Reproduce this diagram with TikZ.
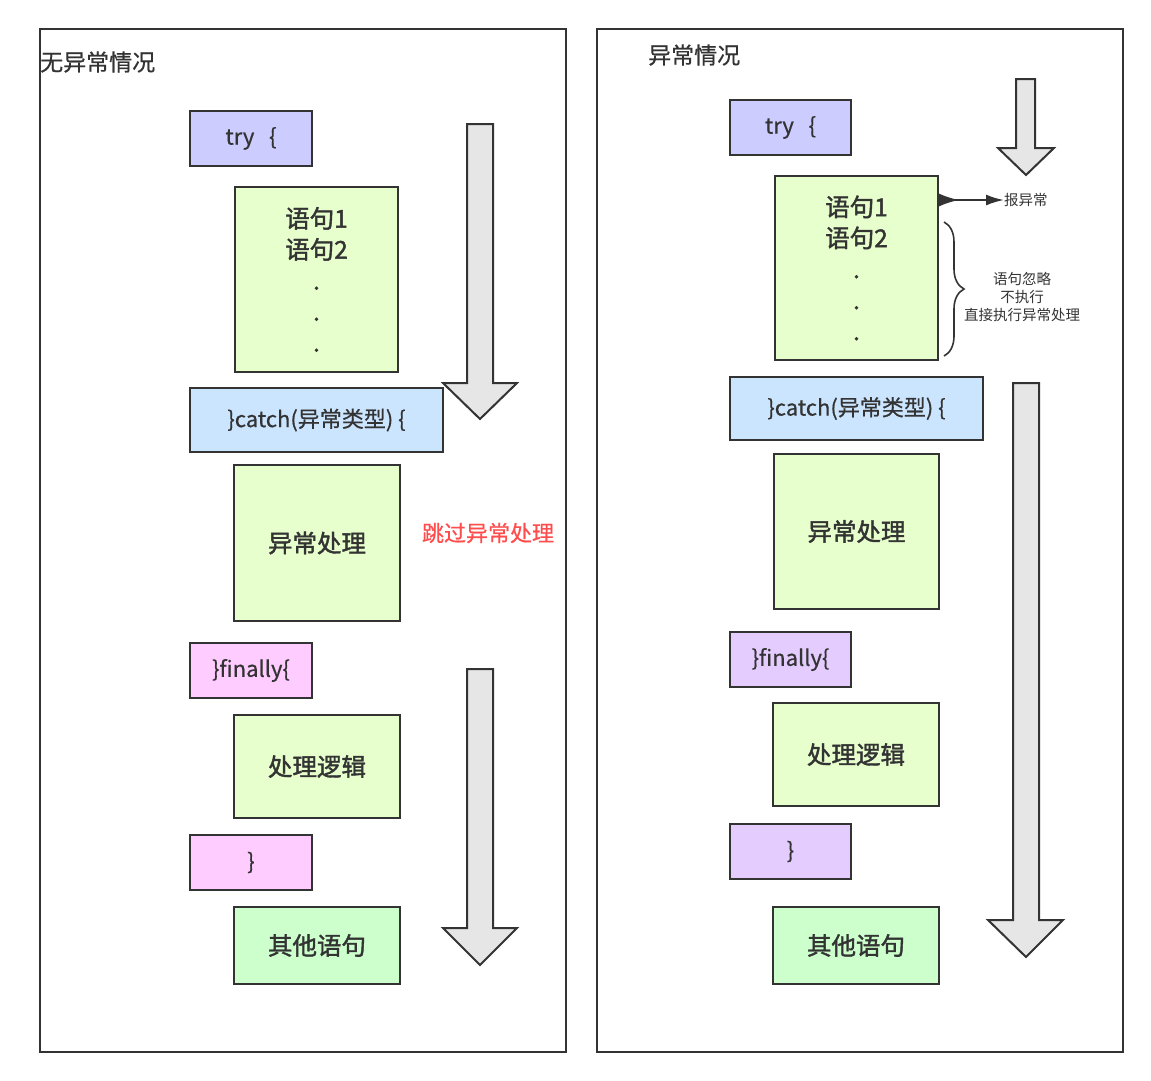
\documentclass[tikz,border=0pt]{standalone}
\usepackage{fontspec}
\setmainfont{Noto Sans CJK SC}
\newfontfamily\medfont[FakeBold=0.6]{Noto Sans CJK SC}
\newfontfamily\heavyfont[FakeBold=1.6]{Noto Sans CJK SC}
\usetikzlibrary{arrows.meta,decorations.pathreplacing}
\definecolor{ln}{RGB}{51,51,51}
\definecolor{tryc}{RGB}{204,204,255}
\definecolor{code}{RGB}{230,255,204}
\definecolor{catc}{RGB}{204,229,255}
\definecolor{finl}{RGB}{255,204,255}
\definecolor{finr}{RGB}{229,204,255}
\definecolor{rest}{RGB}{204,255,204}
\definecolor{skip}{RGB}{255,77,77}
\definecolor{flow}{RGB}{230,230,230}

\tikzset{
  box/.style 2 args={draw=ln, line width=2pt, text=ln, inner sep=0pt,
    minimum width=#1, minimum height=#2, align=center},
  big/.style={font=\fontsize{24.5}{31}\heavyfont},
  mid/.style={font=\fontsize{22}{26}\medfont},
  small/.style={font=\fontsize{14.5}{18}\selectfont, text=ln, align=center},
  panel/.style={draw=ln, line width=2pt},
  flowarr/.style={draw=ln, line width=2pt, fill=flow, line join=miter}
}

\begin{document}
\begin{tikzpicture}[x=1pt, y=-1pt]
  \useasboundingbox (0,0) rectangle (1151,1080);
  % panels
  \draw[panel] (40,29) rectangle (566,1052);
  \draw[panel] (597,29) rectangle (1123,1052);
  \node[mid, font=\fontsize{23}{26}\medfont, anchor=west, text=ln, inner sep=0pt] (ltitle) at (40,62) {无异常情况};
  \node[mid, font=\fontsize{23}{26}\medfont, anchor=west, text=ln, inner sep=0pt] (rtitle) at (648,55) {异常情况};

  % left side
  \node[box={122pt}{55pt}, fill=tryc, mid] (ltry) at (251,138.5) {try\ \ \ \{};
  \node[box={163pt}{185pt}, fill=code, big] (lcode) at (316.5,279.5) {语句1\\语句2\\.\\.\\.};
  \node[box={253pt}{64pt}, fill=catc, mid] (lcatch) at (316.5,420) {\}catch(异常类型) \{};
  \node[box={166pt}{156pt}, fill=code, big] (lhandle) at (317,543) {异常处理};
  \node[box={122pt}{55pt}, fill=finl, mid] (lfin) at (251,670.5) {\}finally\{};
  \node[box={166pt}{103pt}, fill=code, big] (llogic) at (317,766.5) {处理逻辑};
  \node[box={122pt}{55pt}, fill=finl, mid] (lend) at (251,862.5) {\}};
  \node[box={166pt}{77pt}, fill=rest, big] (lrest) at (317,945.5) {其他语句};
  \node[mid, text=skip] (lskip) at (488,533) {跳过异常处理};

  \draw[flowarr] (467,124) -- (493,124) -- (493,383) -- (517,383) -- (480,419)
    -- (443,383) -- (467,383) -- cycle;
  \draw[flowarr] (467,669) -- (493,669) -- (493,928) -- (517,928) -- (480,965)
    -- (443,928) -- (467,928) -- cycle;

  % right side
  \node[box={121pt}{55pt}, fill=tryc, mid] (rtry) at (790.5,127.5) {try\ \ \ \{};
  \node[box={163pt}{184pt}, fill=code, big] (rcode) at (856.5,268) {语句1\\语句2\\.\\.\\.};
  \node[box={253pt}{63pt}, fill=catc, mid] (rcatch) at (856.5,408.5) {\}catch(异常类型) \{};
  \node[box={165pt}{155pt}, fill=code, big] (rhandle) at (856.5,531.5) {异常处理};
  \node[box={121pt}{55pt}, fill=finr, mid] (rfin) at (790.5,659.5) {\}finally\{};
  \node[box={166pt}{103pt}, fill=code, big] (rlogic) at (856,754.5) {处理逻辑};
  \node[box={121pt}{55pt}, fill=finr, mid] (rend) at (790.5,851.5) {\}};
  \node[box={166pt}{77pt}, fill=rest, big] (rrest) at (856,945.5) {其他语句};

  \node[small, anchor=west, inner sep=0pt] (bao) at (1004,200) {报异常};
  \draw[ln, line width=2pt, {Latex[length=20pt,width=13pt,reversed]}-{Latex[length=18pt,width=11pt]}]
    (rcode.east |- bao.west) -- (bao.west);

  \coordinate (btop) at (944,222);
  \coordinate (bbot) at (944,356);
  \draw[ln, line width=1.6pt, decorate, decoration={brace, amplitude=20pt}] (btop) -- (bbot);
  \node[small] (skipnote) at (1022,297) {语句忽略\\不执行\\直接执行异常处理};

  \draw[flowarr] (1016,79) -- (1035,79) -- (1035,148) -- (1054,148) -- (1026,175)
    -- (998,148) -- (1016,148) -- cycle;
  \draw[flowarr] (1013,383) -- (1039,383) -- (1039,920) -- (1063,920) -- (1026,957)
    -- (988,920) -- (1013,920) -- cycle;
\end{tikzpicture}
\end{document}
